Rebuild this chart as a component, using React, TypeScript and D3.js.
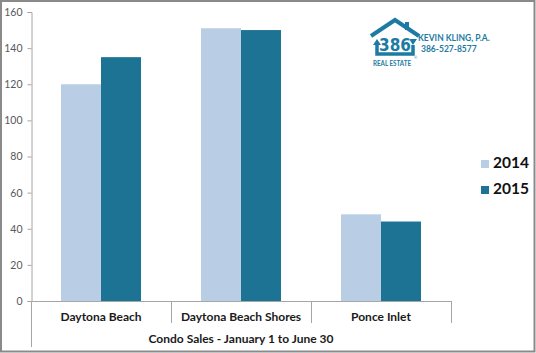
import { useEffect, useRef } from "react";
import * as d3 from "d3";

const categories = ["Daytona Beach", "Daytona Beach Shores", "Ponce Inlet"];
const seriesNames = ["2014", "2015"];
const values2014 = [120, 151, 48];
const values2015 = [135, 150, 44];
const yTicks = [0, 20, 40, 60, 80, 100, 120, 140, 160];
const axisTitle = "Condo Sales - January 1 to June 30";
const colors = ["#b9cde5", "#1c7394"];

const W = 536;
const H = 353;
const FONT = "Lato, 'Open Sans', sans-serif";

const App = () => {
  const chartSvg = useRef<SVGSVGElement | null>(null);

  useEffect(() => {
    const svg = d3.select(chartSvg.current);
    svg.selectAll("*").remove();

    // outer frame
    svg.append("rect").attr("width", W).attr("height", H).attr("fill", "#fff");
    svg
      .append("rect")
      .attr("x", 1)
      .attr("y", 1)
      .attr("width", W - 2.5)
      .attr("height", H - 2.5)
      .attr("fill", "none")
      .attr("stroke", "#8a8a8a")
      .attr("stroke-width", 2);

    const x0 = d3.scaleBand().domain(categories).range([31, 451]);
    const x1 = d3.scaleBand().domain(seriesNames).range([30, 110]);
    const y = d3.scaleLinear().domain([0, 160]).range([301, 12]);

    const lineColor = "#a6a6a6";

    // y axis
    const yAxis = d3.axisLeft(y).tickValues(yTicks).tickSize(4).tickPadding(5);
    const gy = svg.append("g").attr("transform", "translate(31.5,0)").call(yAxis);
    gy.select(".domain").attr("stroke", lineColor);
    gy.selectAll(".tick line").attr("stroke", lineColor);
    gy.selectAll(".tick text")
      .attr("fill", "#595959")
      .attr("font-family", FONT)
      .attr("font-size", 10.5);

    // bars
    const rows = categories.map((c, i) => ({ cat: c, vals: [values2014[i], values2015[i]] }));
    const groups = svg
      .selectAll("g.grp")
      .data(rows)
      .join("g")
      .attr("class", "grp")
      .attr("transform", (d) => `translate(${x0(d.cat)},0)`);
    groups
      .selectAll("rect")
      .data((d) => d.vals.map((v, j) => ({ s: seriesNames[j], v, j })))
      .join("rect")
      .attr("x", (d) => x1(d.s)!)
      .attr("width", x1.bandwidth())
      .attr("y", (d) => y(d.v))
      .attr("height", (d) => y(0) - y(d.v))
      .attr("fill", (d) => colors[d.j]);

    // x axis line and category dividers
    svg
      .append("line")
      .attr("x1", 31)
      .attr("x2", 451)
      .attr("y1", y(0) + 0.5)
      .attr("y2", y(0) + 0.5)
      .attr("stroke", lineColor);
    const edges = [31, ...categories.map((c) => x0(c)! + x0.bandwidth())];
    edges.forEach((ex, i) => {
      svg
        .append("line")
        .attr("x1", ex + 0.5)
        .attr("x2", ex + 0.5)
        .attr("y1", y(0))
        .attr("y2", i === 0 ? 347 : 323)
        .attr("stroke", lineColor);
    });

    // category labels
    svg
      .selectAll("text.cat")
      .data(categories)
      .join("text")
      .attr("class", "cat")
      .attr("x", (d) => x0(d)! + x0.bandwidth() / 2)
      .attr("y", 321)
      .attr("text-anchor", "middle")
      .attr("font-family", FONT)
      .attr("font-weight", "bold")
      .attr("font-size", 12)
      .attr("fill", "#1a1a1a")
      .text((d) => d);

    svg
      .append("text")
      .attr("x", 241)
      .attr("y", 343)
      .attr("text-anchor", "middle")
      .attr("font-family", FONT)
      .attr("font-weight", "bold")
      .attr("font-size", 12)
      .attr("fill", "#1a1a1a")
      .text(axisTitle);

    // legend
    seriesNames.forEach((s, i) => {
      const ly = 168 + i * 26;
      svg
        .append("rect")
        .attr("x", 481)
        .attr("y", ly - 8)
        .attr("width", 8)
        .attr("height", 8)
        .attr("fill", colors[i]);
      svg
        .append("text")
        .attr("x", 493)
        .attr("y", ly)
        .attr("font-family", FONT)
        .attr("font-weight", "bold")
        .attr("font-size", 15.5)
        .attr("fill", "#111")
        .text(s);
    });

    // logo
    const logoColor = "#1d7ba3";
    const logo = svg.append("g");
    logo
      .append("path")
      .attr("d", "M371,36 L395,20 L419,36")
      .attr("fill", "none")
      .attr("stroke", logoColor)
      .attr("stroke-width", 4)
      .attr("stroke-linejoin", "miter");
    logo
      .append("rect")
      .attr("x", 405)
      .attr("y", 22)
      .attr("width", 4)
      .attr("height", 8)
      .attr("fill", logoColor);
    logo
      .append("path")
      .attr("d", "M377,45 L377,54 L413,54 L413,45")
      .attr("fill", "none")
      .attr("stroke", logoColor)
      .attr("stroke-width", 3.5);
    logo
      .append("path")
      .attr("d", "M373,45 L377,39 L381,45 Z M409,39 L413,45 L417,39 Z")
      .attr("fill", logoColor);
    logo
      .append("text")
      .attr("x", 395)
      .attr("y", 51)
      .attr("text-anchor", "middle")
      .attr("font-family", "'Liberation Sans Narrow', 'DejaVu Sans Condensed', sans-serif")
      .attr("font-weight", "bold")
      .attr("font-size", 17)
      .attr("fill", logoColor)
      .attr("stroke", "#fff")
      .attr("stroke-width", 0.6)
      .attr("paint-order", "stroke")
      .text("386");
    logo
      .append("text")
      .attr("x", 373)
      .attr("y", 66)
      .attr("textLength", 38)
      .attr("lengthAdjust", "spacingAndGlyphs")
      .attr("font-family", FONT)
      .attr("font-weight", "bold")
      .attr("font-size", 7)
      .attr("fill", logoColor)
      .text("REAL ESTATE");
    logo
      .append("text")
      .attr("x", 414)
      .attr("y", 59)
      .attr("font-family", FONT)
      .attr("font-size", 4)
      .attr("fill", logoColor)
      .text("®");
    logo
      .append("text")
      .attr("x", 418)
      .attr("y", 41)
      .attr("font-family", FONT)
      .attr("font-weight", "bold")
      .attr("font-size", 8.5)
      .attr("fill", logoColor)
      .text("KEVIN KLING, P.A.");
    logo
      .append("text")
      .attr("x", 421)
      .attr("y", 52)
      .attr("font-family", FONT)
      .attr("font-weight", "bold")
      .attr("font-size", 8.5)
      .attr("fill", logoColor)
      .text("386-527-8577");
  }, []);

  return (
    <svg
      ref={chartSvg}
      width={W}
      height={H}
      style={{ position: "fixed", left: 0, top: 0, display: "block" }}
    ></svg>
  );
};

export default App;
